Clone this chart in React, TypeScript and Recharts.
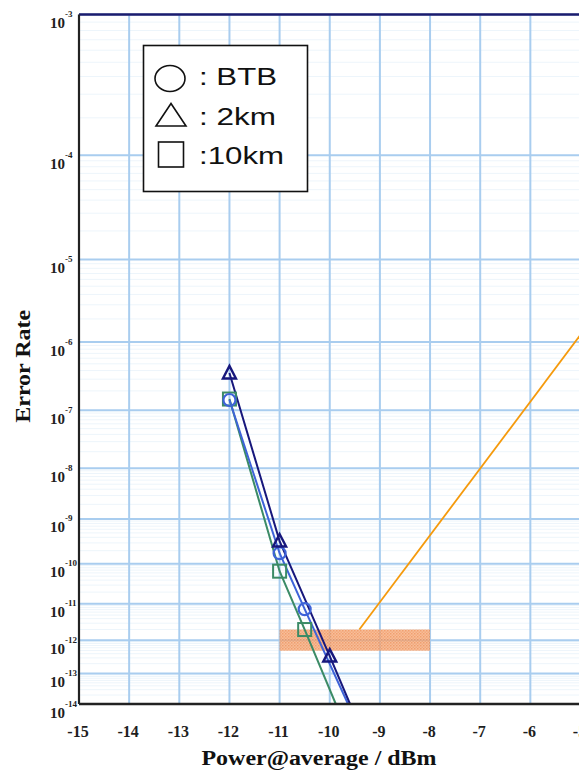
import React from 'react';
import {
  LineChart,
  Line,
  XAxis,
  YAxis,
  CartesianGrid,
  ReferenceLine,
  ReferenceArea,
} from 'recharts';

// Received power (dBm) and measured error rate for each link.
// The last pair of every series is where its trend line meets the floor of the plot.
const btbPower = [-12, -11, -10.5, -9.636];
const btbRate = [1.45e-7, 1.75e-10, 7.2e-12, 1e-14];
const km2Power = [-12, -11, -10, -9.596];
const km2Rate = [3.7e-7, 3.3e-10, 3.4e-13, 1e-14];
const km10Power = [-12, -11, -10.5, -9.88];
const km10Rate = [1.5e-7, 6.6e-11, 2.0e-12, 1e-14];
const measuredCount = 3;

const legendNames = [': BTB', ': 2km', ':10km'];

// Axis ticks
const powerTicks = [-15, -14, -13, -12, -11, -10, -9, -8, -7, -6, -5];
const rateExponents = [3, 4, 5, 6, 7, 8, 9, 10, 11, 12, 13, 14];
const minorMultipliers = [2, 3, 4, 5, 6, 7, 8, 9];

// Highlighted error-rate window and its call-out line
const bandPower = [-11, -8];
const bandRate = [2.0e-12, 4.9e-13];
const pointerPower = [-9.41, -5];
const pointerRate = [2.0e-12, 1.25e-6];

const SERIF = '"Liberation Serif", "Times New Roman", serif';
const SANS = '"Liberation Sans", Arial, sans-serif';

const NAVY = '#17177c';
const BLUE = '#3e63d8';
const GREEN = '#3b8b66';

// Inverse Gaussian tail (Q^-1), lower-tail rational approximation.
function qInverse(p: number): number {
  const c = [
    -7.784894002430293e-3, -3.223964580411365e-1, -2.400758277161838,
    -2.549732539343734, 4.374664141464968, 2.938163982698783,
  ];
  const d = [
    7.784695709041462e-3, 3.224671290700398e-1, 2.445134137142996,
    3.754408661907416,
  ];
  const q = Math.sqrt(-2 * Math.log(p));
  const x =
    (((((c[0] * q + c[1]) * q + c[2]) * q + c[3]) * q + c[4]) * q + c[5]) /
    ((((d[0] * q + d[1]) * q + d[2]) * q + d[3]) * q + 1);
  return -x;
}

// Error-rate axis is linear in log10(Q)
const toAxis = (rate: number) => Math.log10(qInverse(rate));

const rows = (power: number[], rate: number[]) =>
  power.map((x, i) => ({ x, y: toAxis(rate[i]), measured: i < measuredCount }));

const btbRows = rows(btbPower, btbRate);
const km2Rows = rows(km2Power, km2Rate);
const km10Rows = rows(km10Power, km10Rate);

const majorValues = rateExponents.map((n) => toAxis(Math.pow(10, -n)));
const minorValues: number[] = [];
rateExponents.slice(1).forEach((n) =>
  minorMultipliers.forEach((k) => minorValues.push(toAxis(k * Math.pow(10, -n))))
);
const yDomain: [number, number] = [majorValues[0], majorValues[majorValues.length - 1]];

const circleDot = (props: any) => {
  const { cx, cy, payload, index } = props;
  if (!payload.measured) return <g key={`c${index}`} />;
  return <circle key={`c${index}`} cx={cx} cy={cy} r={6} fill="none" stroke={BLUE} strokeWidth={2.2} />;
};

const triangleDot = (props: any) => {
  const { cx, cy, payload, index } = props;
  if (!payload.measured) return <g key={`t${index}`} />;
  const pts = `${cx - 6.5},${cy + 5.5} ${cx + 6.5},${cy + 5.5} ${cx},${cy - 7}`;
  return <polygon key={`t${index}`} points={pts} fill="none" stroke={NAVY} strokeWidth={2.4} strokeLinejoin="miter" />;
};

const squareDot = (props: any) => {
  const { cx, cy, payload, index } = props;
  if (!payload.measured) return <g key={`s${index}`} />;
  return (
    <rect key={`s${index}`} x={cx - 6.5} y={cy - 6.5} width={13} height={13} fill="none" stroke={GREEN} strokeWidth={2} />
  );
};

const RateTick = (props: any) => {
  const { x, y, payload } = props;
  const idx = majorValues.findIndex((v) => Math.abs(v - payload.value) < 1e-6);
  const exp = idx >= 0 ? rateExponents[idx] : 0;
  return (
    <g fontFamily={SERIF} fontWeight="bold" fill="#1e1e1e">
      <text x={x - 14} y={y + 13.5} textAnchor="end" fontSize={15}>
        10
      </text>
      <text x={x - 14} y={y + 2.5} textAnchor="start" fontSize={9}>
        {`-${exp}`}
      </text>
    </g>
  );
};

const PowerTick = (props: any) => {
  const { x, y, payload } = props;
  return (
    <text x={x - 1} y={y + 33} textAnchor="middle" fontFamily={SERIF} fontWeight="bold" fontSize={16} fill="#1e1e1e">
      {String(payload.value)}
    </text>
  );
};

const PowerTitle = (props: any) => {
  const vb = props.viewBox;
  return (
    <text
      x={vb.x + 240}
      y={vb.y + 61}
      textAnchor="middle"
      fontFamily={SERIF}
      fontWeight="bold"
      fontSize={20}
      fill="#111"
      textLength={235}
      lengthAdjust="spacingAndGlyphs"
    >
      Power@average / dBm
    </text>
  );
};

const RateTitle = (props: any) => {
  const vb = props.viewBox;
  const cx = 30;
  const cy = vb.y + vb.height / 2 + 7;
  return (
    <text
      x={cx}
      y={cy}
      transform={`rotate(-90 ${cx} ${cy})`}
      textAnchor="middle"
      fontFamily={SERIF}
      fontWeight="bold"
      fontSize={20}
      fill="#111"
      textLength={113}
      lengthAdjust="spacingAndGlyphs"
    >
      Error Rate
    </text>
  );
};

function LegendBox() {
  return (
    <svg
      width={579}
      height={771}
      style={{ position: 'absolute', left: 0, top: 0, pointerEvents: 'none' }}
    >
      <rect x={143.5} y={45.5} width={164} height={146} fill="#fff" stroke="#111" strokeWidth={1.6} />
      <ellipse cx={170} cy={78.5} rx={15} ry={13} fill="none" stroke="#111" strokeWidth={1.6} />
      <polygon points="156,126 186,126 171,103.5" fill="none" stroke="#111" strokeWidth={1.6} />
      <rect x={158.5} y={142} width={25} height={25} fill="none" stroke="#111" strokeWidth={1.6} />
      <g fontFamily={SANS} fontSize={23} fill="#111">
        <text x={199} y={85} textLength={78} lengthAdjust="spacingAndGlyphs">{legendNames[0]}</text>
        <text x={199} y={125} textLength={77} lengthAdjust="spacingAndGlyphs">{legendNames[1]}</text>
        <text x={199} y={164} textLength={85} lengthAdjust="spacingAndGlyphs">{legendNames[2]}</text>
      </g>
    </svg>
  );
}

export default function App() {
  return (
    <div
      style={{
        position: 'absolute',
        left: 0,
        top: 0,
        width: 579,
        height: 771,
        overflow: 'hidden',
        background: '#fff',
      }}
    >
      <LineChart width={600} height={771} margin={{ top: 14.5, right: 19.5, bottom: 0, left: 0 }}>
        <defs>
          <pattern id="bandDots" width={3} height={3} patternUnits="userSpaceOnUse">
            <rect width={3} height={3} fill="#f6ad80" />
            <rect width={1.5} height={1.5} fill="#ee884a" />
            <rect x={1.5} y={1.5} width={1.5} height={1.5} fill="#f1955c" />
          </pattern>
        </defs>
        {minorValues.map((v, i) => (
          <ReferenceLine
            key={`m${i}`}
            y={v}
            stroke="#edf5fb"
            strokeWidth={1}
            ifOverflow="hidden"
            {...({ zIndex: -150 } as any)}
          />
        ))}
        <CartesianGrid stroke="#a9cdef" strokeWidth={2} />
        <XAxis
          dataKey="x"
          type="number"
          domain={[-15, -5]}
          ticks={powerTicks}
          allowDataOverflow
          height={67}
          tickSize={0}
          tickMargin={0}
          tickLine={false}
          axisLine={{ stroke: '#222', strokeWidth: 2.5 }}
          tick={<PowerTick />}
          interval={0}
          label={<PowerTitle />}
        />
        <YAxis
          dataKey="y"
          type="number"
          domain={yDomain}
          ticks={majorValues}
          reversed
          allowDataOverflow
          width={79}
          tickSize={0}
          tickMargin={0}
          tickLine={false}
          axisLine={{ stroke: '#222', strokeWidth: 2.2 }}
          tick={<RateTick />}
          interval={0}
          label={<RateTitle />}
        />
        <ReferenceLine y={majorValues[0]} stroke="#1c1c6e" strokeWidth={2.5} />
        <ReferenceArea
          x1={bandPower[0]}
          x2={bandPower[1]}
          y1={toAxis(bandRate[0])}
          y2={toAxis(bandRate[1])}
          fill="url(#bandDots)"
          fillOpacity={0.8}
          stroke="none"
        />
        <ReferenceLine
          segment={[
            { x: pointerPower[0], y: toAxis(pointerRate[0]) },
            { x: pointerPower[1], y: toAxis(pointerRate[1]) },
          ]}
          stroke="#f59a0c"
          strokeWidth={1.8}
        />
        <Line data={km10Rows} dataKey="y" type="linear" stroke={GREEN} strokeWidth={2} dot={squareDot} isAnimationActive={false} />
        <Line data={btbRows} dataKey="y" type="linear" stroke={BLUE} strokeWidth={2} dot={circleDot} isAnimationActive={false} />
        <Line data={km2Rows} dataKey="y" type="linear" stroke={NAVY} strokeWidth={2} dot={triangleDot} isAnimationActive={false} />
      </LineChart>
      <LegendBox />
    </div>
  );
}
